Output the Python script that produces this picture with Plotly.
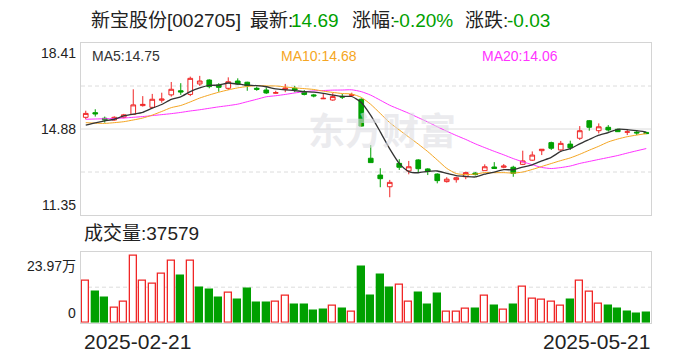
import plotly.graph_objects as go

W, H = 688, 360

# ---------------- data ----------------
stock_name = "新宝股份[002705]"
latest_price = "14.69"
change_pct = "-0.20%"
change_abs = "-0.03"
first_date = "2025-02-21"
last_date = "2025-05-21"

opens = [15.36, 15.55, 15.32, 15.25, 15.36, 15.48, 15.84, 15.77, 16.06, 16.28,
         16.45, 16.30, 16.73, 16.89, 16.69, 16.55, 16.85, 16.80, 16.55, 16.48,
         16.35, 16.51, 16.55, 16.39, 16.28, 16.12, 16.07, 16.22, 16.26, 16.10,
         13.68, 12.99, 12.51, 13.47, 13.16, 13.61, 13.24, 13.03, 12.72, 12.80,
         12.92, 13.07, 13.17, 13.32, 13.31, 13.31, 13.43, 13.60, 13.99, 14.32,
         14.02, 14.26, 14.50, 15.22, 14.81, 14.95, 14.87, 14.75, 14.75, 14.74]
highs = [15.63, 15.69, 15.39, 15.40, 15.50, 16.51, 16.23, 16.32, 16.37, 16.81,
         16.76, 17.03, 17.06, 16.92, 16.76, 17.00, 16.96, 16.82, 16.62, 16.59,
         16.45, 16.73, 16.65, 16.48, 16.32, 16.32, 16.35, 16.32, 16.37, 16.14,
         14.22, 13.27, 12.79, 13.64, 13.57, 13.64, 13.27, 13.06, 12.90, 12.92,
         13.13, 13.11, 13.43, 13.52, 13.44, 13.37, 13.99, 13.96, 14.05, 14.36,
         14.39, 14.40, 15.00, 15.25, 15.11, 15.04, 14.89, 14.87, 14.84, 14.76]
lows = [15.28, 15.39, 15.14, 15.22, 15.32, 15.46, 15.80, 15.73, 15.96, 16.21,
        16.28, 16.23, 16.65, 16.55, 16.41, 16.48, 16.69, 16.45, 16.45, 16.32,
        16.33, 16.39, 16.39, 16.26, 16.18, 16.11, 16.04, 16.11, 16.21, 14.98,
        13.50, 12.49, 12.08, 13.20, 13.02, 13.09, 12.99, 12.65, 12.68, 12.68,
        12.82, 12.97, 13.17, 13.25, 13.27, 12.92, 13.40, 13.57, 13.81, 14.02,
        13.99, 14.02, 14.43, 14.81, 14.70, 14.77, 14.76, 14.63, 14.63, 14.67]
closes = [15.52, 15.50, 15.25, 15.36, 15.46, 15.87, 15.89, 16.10, 16.11, 16.51,
          16.40, 16.96, 16.85, 16.62, 16.59, 16.82, 16.73, 16.65, 16.51, 16.36,
          16.37, 16.56, 16.48, 16.30, 16.24, 16.14, 16.21, 16.19, 16.29, 15.00,
          13.50, 12.84, 12.69, 13.31, 13.33, 13.25, 13.13, 12.76, 12.82, 12.88,
          13.09, 13.01, 13.33, 13.26, 13.36, 13.06, 13.57, 13.81, 14.05, 14.09,
          14.29, 14.11, 14.81, 14.95, 14.97, 14.84, 14.77, 14.76, 14.72, 14.69]
prev_close_first = 15.30  # close of the day before the window (estimated)

volumes = [149800, 110300, 88700, 55100, 74300, 239700, 149800, 139000, 175000, 221700,
           169000, 221700, 125800, 117500, 88700, 106700, 81500, 121000, 71900, 71900,
           74300, 98300, 63500, 63500, 41900, 45500, 59900, 49100, 38400, 200100,
           95900, 171400, 124600, 135400, 76700, 106700, 63500, 103100, 40700, 40700,
           51500, 49100, 98300, 59900, 47900, 63500, 130600, 87500, 83900, 76700,
           62300, 81500, 152200, 112700, 69500, 59900, 49100, 38400, 31200, 37579]

# moving-average values at the left edge (earlier history not shown)
ma5_head = [15.04, 15.13, 15.21, 15.28]
ma10_head = [15.14, 15.12, 15.11, 15.14, 15.18, 15.25, 15.33, 15.45, 15.60]
ma20_head = [15.28, 15.29, 15.30, 15.31, 15.33, 15.36, 15.39, 15.43, 15.47, 15.51,
             15.56, 15.62, 15.67, 15.73, 15.79, 15.84, 15.90, 16.00, 16.10]
ma_labels = [("MA5", "14.75"), ("MA10", "14.68"), ("MA20", "14.06")]

price_ticks = [11.35, 14.88, 18.41]

# ---------------- styles ----------------
RED = "#f02626"
GREEN = "#00a000"
BORDER = "#d4d4d4"
GRID = "#dcdcdc"
MA_COLORS = ["#333333", "#f5a623", "#ff33ff"]
FONT = "Liberation Sans, Noto Sans CJK SC, sans-serif"
TXT = "#222222"

n = len(closes)
x = list(range(n))


def moving_avg(head, win):
    out = list(head)
    for i in range(win - 1, n):
        out.append(sum(closes[i - win + 1:i + 1]) / win)
    return out


ma5 = moving_avg(ma5_head, 5)
ma10 = moving_avg(ma10_head, 10)
ma20 = moving_avg(ma20_head, 20)

prev = [prev_close_first] + closes[:-1]
vol_up = [c >= p for c, p in zip(closes, prev)]
vol_fill = ["white" if u else GREEN for u in vol_up]
vol_line = [RED if u else GREEN for u in vol_up]

fig = go.Figure()
fig.add_trace(go.Candlestick(
    x=x, open=opens, high=highs, low=lows, close=closes,
    increasing=dict(line=dict(color=RED, width=1), fillcolor="white"),
    decreasing=dict(line=dict(color=GREEN, width=1), fillcolor=GREEN),
    xaxis="x", yaxis="y", hoverinfo="skip", showlegend=False,
))
for ma, col, w in zip([ma20, ma10, ma5], MA_COLORS[::-1], [1, 1, 1.3]):
    fig.add_trace(go.Scatter(x=x, y=ma, mode="lines", line=dict(color=col, width=w, shape="spline", smoothing=0.6),
                             xaxis="x", yaxis="y", hoverinfo="skip", showlegend=False))
fig.add_trace(go.Bar(
    x=x, y=volumes, width=0.72,
    marker=dict(color=vol_fill, line=dict(color=vol_line, width=1.3)),
    xaxis="x2", yaxis="y2", hoverinfo="skip", showlegend=False,
))

vmax = max(volumes)
xdom = [81 / W, 651 / W]
axis_common = dict(showgrid=False, zeroline=False, showticklabels=False, ticks="",
                   showline=True, mirror=True, linecolor=BORDER, linewidth=1, fixedrange=True)

fig.update_layout(
    width=W, height=H, margin=dict(l=0, r=0, t=0, b=0),
    paper_bgcolor="white", plot_bgcolor="white",
    xaxis=dict(domain=xdom, range=[-0.5, n - 0.5], anchor="y", rangeslider=dict(visible=False), **axis_common),
    yaxis=dict(domain=[1 - 215 / H, 1 - 43 / H], range=[price_ticks[0], price_ticks[-1]], anchor="x", **axis_common),
    xaxis2=dict(domain=xdom, range=[-0.5, n - 0.5], anchor="y2", **axis_common),
    yaxis2=dict(domain=[1 - 322.7 / H, 1 - 251.7 / H], range=[0, vmax * 71 / 66.7], anchor="x2", **axis_common),
    showlegend=False,
    bargap=0,
)

shapes = []
for v, dash in [((price_ticks[0] + price_ticks[1]) / 2, "4px,3px"), (price_ticks[1], "solid"),
                ((price_ticks[1] + price_ticks[2]) / 2, "4px,3px")]:
    shapes.append(dict(type="line", xref="x domain", x0=0, x1=1, yref="y", y0=v, y1=v,
                       line=dict(color=GRID, width=1, dash=dash), layer="below"))
shapes.append(dict(type="line", xref="x2 domain", x0=0, x1=1, yref="y2 domain", y0=0.5, y1=0.5,
                   line=dict(color=GRID, width=1, dash="4px,3px"), layer="below"))
fig.update_layout(shapes=shapes)

ann = []


def add_text(text, x, y, color=TXT, size=14, xanchor="left", yanchor="middle", xref="paper", yref="paper", **kw):
    ann.append(dict(text=text, x=x, y=y, xref=xref, yref=yref, xanchor=xanchor, yanchor=yanchor,
                    showarrow=False, font=dict(family=FONT, size=size, color=color), **kw))


# watermark
ann.append(dict(text="东方财富", x=382 / W, y=1 - 129 / H, xref="paper", yref="paper",
                xanchor="center", yanchor="middle", showarrow=False,
                font=dict(family="Noto Sans CJK SC", size=37, color="rgba(222,222,228,0.6)", weight=700)))

# header
title_parts = [(stock_name, 89, TXT), ("最新:", 248, TXT), (latest_price, 289, GREEN),
               ("涨幅:", 350, TXT), (change_pct, 391, GREEN), ("涨跌:", 463, TXT), (change_abs, 505, GREEN)]
for t, px, c in title_parts:
    add_text(t, px / W, 1 - 20 / H, color=c, size=19)

# MA labels
for (name, val), col, px in zip(ma_labels, MA_COLORS, [90, 279, 480]):
    add_text(f"{name}:{val}", px / W, 1 - 56 / H, color=col, size=14)

# price axis labels
for v, ya in zip(price_ticks, ["bottom", "middle", "top"]):
    add_text(f"{v:.2f}", 78 / W, v, yref="y", xanchor="right", yanchor=ya, size=14)

# volume labels
add_text(f"成交量:{volumes[-1]}", 82 / W, 1 - 233 / H, size=19)
add_text(f"{vmax / 10000:.2f}万", 78 / W, vmax, yref="y2", xanchor="right", yanchor="top", size=14)
add_text("0", 78 / W, 0, yref="y2", xanchor="right", yanchor="bottom", size=14)

# dates
add_text(first_date, 82 / W, 1 - 341 / H, size=21)
add_text(last_date, 652 / W, 1 - 341 / H, size=21, xanchor="right")

fig.update_layout(annotations=ann)
fig.write_html("out.html")
